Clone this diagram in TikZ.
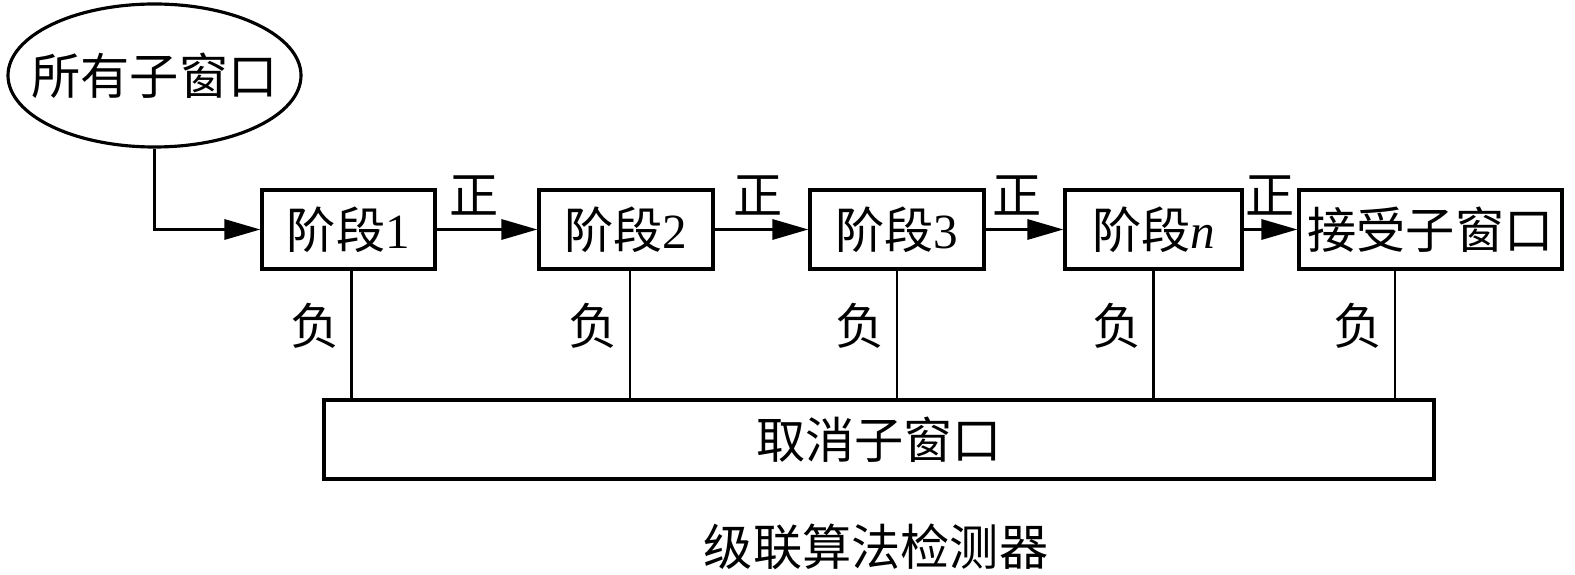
\documentclass[tikz,border=0pt]{standalone}
\usepackage{fontspec}
\setmainfont{Liberation Serif}
\newfontfamily\cjk{Noto Sans CJK SC}
\usepackage{tikz}
\usetikzlibrary{shapes,arrows,positioning,calc,arrows.meta}

\begin{document}
\begin{tikzpicture}[
    font=\fontsize{28}{34}\selectfont,
    stage/.style={draw, line width=1.8pt, minimum height=1.58cm, inner sep=0pt},
    flow/.style={line width=1.8pt, -{Triangle[length=0.72cm,width=0.4cm]}},
    reject/.style={line width=1.3pt},
    tag/.style={inner sep=0pt, font=\fontsize{28}{34}\selectfont\cjk}
]
    \useasboundingbox (0,0) rectangle (31.5,-11.5);

    % Input windows
    \node[draw, ellipse, line width=1.8pt, minimum width=5.86cm, minimum height=2.86cm, inner sep=0pt, inner xsep=-0.7cm] (all) at (3.09,-1.51) {\cjk 所有子窗口};

    % Stages
    \node[stage, minimum width=3.46cm] (s1) at (6.97,-4.59) {{\cjk 阶段}1};
    \node[stage, minimum width=3.48cm] (s2) at (12.52,-4.59) {{\cjk 阶段}2};
    \node[stage, minimum width=3.48cm] (s3) at (17.94,-4.59) {{\cjk 阶段}3};
    \node[stage, minimum width=3.54cm] (sn) at (23.07,-4.59) {{\cjk 阶段}\textit{n}};
    \node[stage, minimum width=5.26cm] (acc) at (28.61,-4.59) {\cjk 接受子窗口};

    % Rejected windows
    \node[stage, minimum width=22.2cm] (rej) at (17.58,-8.79) {\cjk 取消子窗口};

    % Caption
    \node[tag] (title) at (17.52,-10.94) {级联算法检测器};

    % Positive path
    \draw[flow] (all.south) |- (s1.west);
    \draw[flow] (s1) -- node[tag, above=0.25cm, xshift=-0.25cm] (p1) {正} (s2);
    \draw[flow] (s2) -- node[tag, above=0.25cm, xshift=-0.06cm] (p2) {正} (s3);
    \draw[flow] (s3) -- node[tag, above=0.25cm, xshift=-0.14cm] (p3) {正} (sn);
    \draw[flow] (sn) -- node[tag, above=0.25cm] (p4) {正} (acc);

    % Negative path
    \coordinate (drop1) at ([xshift=0.06cm]s1.south);
    \coordinate (drop2) at ([xshift=0.08cm]s2.south);
    \coordinate (accdrop) at ([xshift=-0.71cm]acc.south);
    \draw[reject] (drop1) -- node[tag, pos=0.43, left=0.22cm] (n1) {负} (drop1 |- rej.north);
    \draw[reject] (drop2) -- node[tag, pos=0.43, left=0.22cm] (n2) {负} (drop2 |- rej.north);
    \draw[reject] (s3.south) -- node[tag, pos=0.43, left=0.22cm] (n3) {负} (s3.south |- rej.north);
    \draw[reject] (sn.south) -- node[tag, pos=0.43, left=0.22cm] (n4) {负} (sn.south |- rej.north);
    \draw[reject] (accdrop) -- node[tag, pos=0.43, left=0.22cm] (n5) {负} (accdrop |- rej.north);
\end{tikzpicture}
\end{document}
